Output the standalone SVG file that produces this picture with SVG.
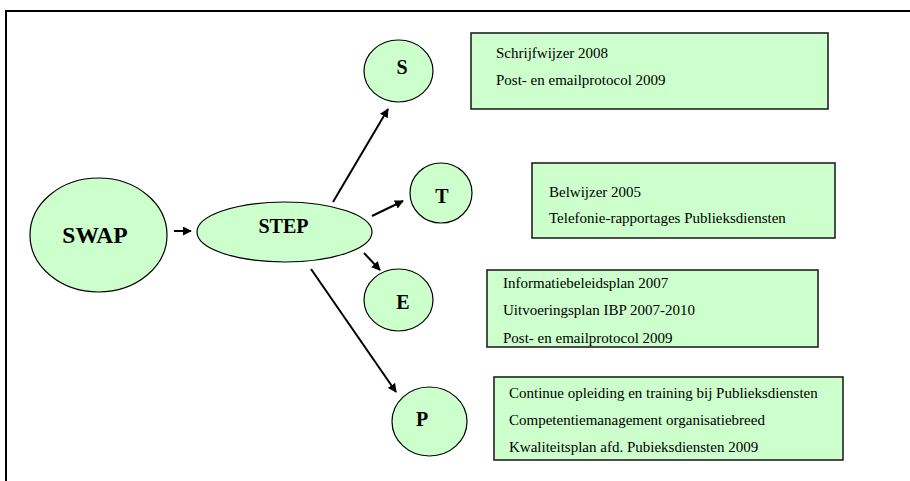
<svg xmlns="http://www.w3.org/2000/svg" width="910" height="481" viewBox="0 0 910 481">
<style>
.n{fill:#CCFFCC;stroke:#000;stroke-width:1.2}
.b{fill:#CCFFCC;stroke:#222;stroke-width:1.6}
.t{font-family:"Liberation Serif","Times New Roman",serif;font-size:15px;fill:#000}
.h{font-family:"Liberation Serif","Times New Roman",serif;font-weight:bold;fill:#000;text-anchor:middle}
.c{stroke:#000;stroke-width:2;fill:none;marker-end:url(#ah)}
</style>
<defs>
<marker id="ah" viewBox="0 0 10 10" refX="9" refY="5" markerWidth="4.5" markerHeight="4.5" orient="auto" markerUnits="strokeWidth">
<path d="M0,0 L10,5 L0,10 z" fill="#000"/>
</marker>
</defs>
<rect width="910" height="481" fill="#fff"/>
<rect x="6" y="11" width="920" height="490" fill="none" stroke="#000" stroke-width="2"/>
<g id="connectors">
<line class="c" x1="174" y1="231" x2="191" y2="231"/>
<line class="c" x1="333" y1="202" x2="388" y2="109"/>
<line class="c" x1="372" y1="216" x2="403" y2="201"/>
<line class="c" x1="364" y1="253" x2="380" y2="270"/>
<line class="c" x1="311" y1="269" x2="396" y2="392"/>
</g>
<g id="swap">
<ellipse class="n" cx="98.5" cy="235" rx="68.5" ry="57"/>
<text class="h" x="95" y="243" font-size="23.5">SWAP</text>
</g>
<g id="step">
<ellipse class="n" cx="284.5" cy="232" rx="87.5" ry="30"/>
<text class="h" x="283.5" y="233" font-size="20">STEP</text>
</g>
<g id="s">
<ellipse class="n" cx="398.5" cy="71" rx="34.5" ry="31"/>
<text class="h" x="402" y="74" font-size="20">S</text>
</g>
<g id="t">
<ellipse class="n" cx="441" cy="193" rx="31" ry="30"/>
<text class="h" x="442" y="203" font-size="20">T</text>
</g>
<g id="e">
<ellipse class="n" cx="398.5" cy="300" rx="34.5" ry="31"/>
<text class="h" x="403" y="309" font-size="20">E</text>
</g>
<g id="p">
<ellipse class="n" cx="429.5" cy="421.5" rx="37.5" ry="34.5"/>
<text class="h" x="422" y="426" font-size="20">P</text>
</g>
<g id="box-s">
<rect class="b" x="471" y="33" width="357" height="76"/>
<text class="t" x="496" y="58">Schrijfwijzer 2008</text>
<text class="t" x="496" y="85">Post- en emailprotocol 2009</text>
</g>
<g id="box-t">
<rect class="b" x="532" y="163" width="303" height="75"/>
<text class="t" x="549" y="197">Belwijzer 2005</text>
<text class="t" x="549" y="223">Telefonie-rapportages Publieksdiensten</text>
</g>
<g id="box-e">
<rect class="b" x="487" y="270" width="331" height="77"/>
<text class="t" x="503" y="288">Informatiebeleidsplan 2007</text>
<text class="t" x="503" y="315">Uitvoeringsplan IBP 2007-2010</text>
<text class="t" x="503" y="343">Post- en emailprotocol 2009</text>
</g>
<g id="box-p">
<rect class="b" x="494" y="377" width="349" height="83"/>
<text class="t" x="509" y="398">Continue opleiding en training bij Publieksdiensten</text>
<text class="t" x="509" y="425">Competentiemanagement organisatiebreed</text>
<text class="t" x="509" y="452">Kwaliteitsplan afd. Pubieksdiensten 2009</text>
</g>
</svg>
